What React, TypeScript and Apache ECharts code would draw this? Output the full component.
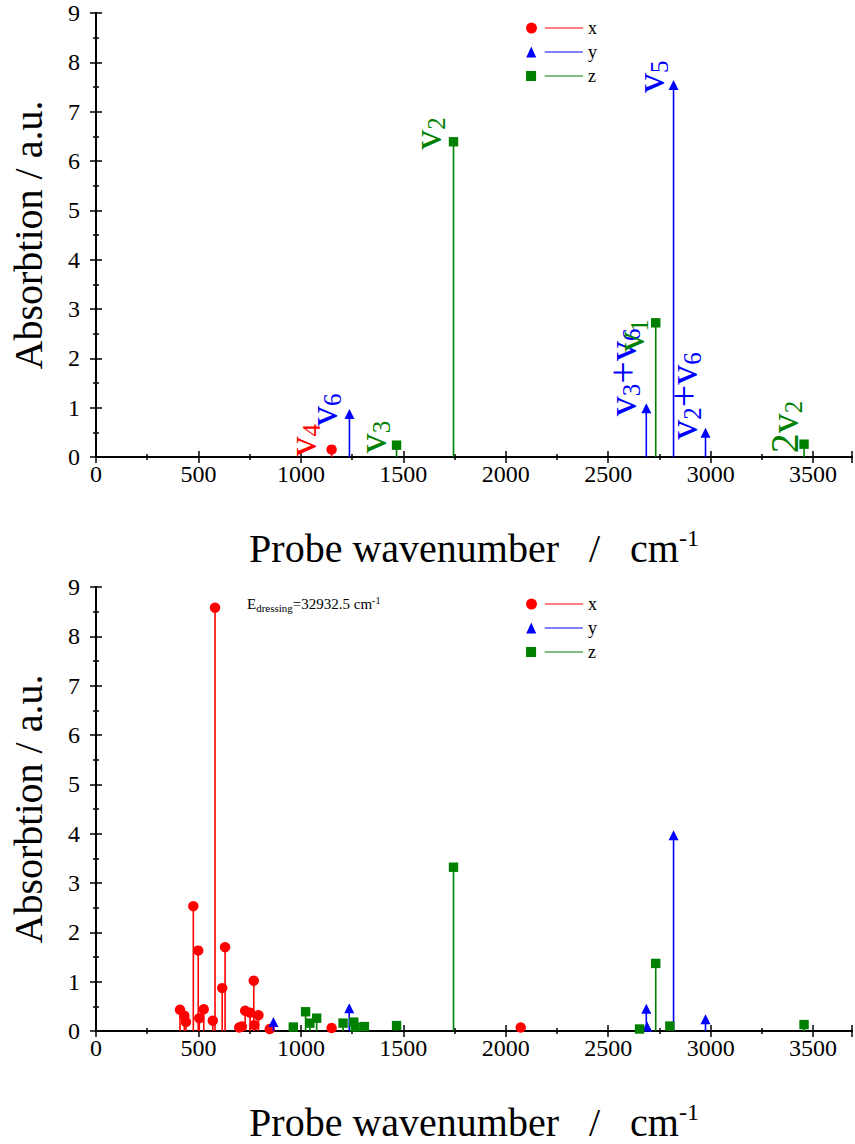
import React, { useEffect, useRef } from 'react';
import * as echarts from 'echarts';

// ---- Top panel data: [wavenumber, absorption] ----
const topX: number[][] = [[1150, 0.15]];
const topXLabels = ['v{s|4}'];
const topY: number[][] = [[1237, 0.85], [2686, 0.97], [2819, 7.52], [2975, 0.47]];
const topYLabels = ['v{s|6}', 'v{s|3}+v{s|6}', 'v{s|5}', 'v{s|2}+v{s|6}'];
const topZ: number[][] = [[1467, 0.24], [1745, 6.39], [2732, 2.72], [3456, 0.26]];
const topZLabels = ['v{s|3}', 'v{s|2}', 'v{s|1}', '2v{s|2}'];

// ---- Bottom panel data ----
const botX: number[][] = [
  [410, 0.43], [431, 0.31], [439, 0.18], [475, 2.53], [499, 1.63], [504, 0.26], [526, 0.44],
  [570, 0.21], [581, 8.58], [616, 0.87], [630, 1.70], [699, 0.07], [712, 0.09], [728, 0.41],
  [752, 0.37], [770, 1.02], [773, 0.12], [793, 0.32], [848, 0.04], [1150, 0.06], [2073, 0.07],
];
const botY: number[][] = [[866, 0.16], [1236, 0.44], [2686, 0.43], [2690, 0.07], [2819, 3.95], [2975, 0.22]];
const botZ: number[][] = [
  [963, 0.08], [1023, 0.39], [1044, 0.16], [1077, 0.26], [1206, 0.16], [1258, 0.18], [1265, 0.08],
  [1310, 0.09], [1467, 0.11], [1745, 3.32], [2653, 0.04], [2732, 1.37], [2801, 0.10], [3456, 0.13],
];

const seriesNames = ['x', 'y', 'z'];
const xTicks = [0, 500, 1000, 1500, 2000, 2500, 3000, 3500];
const dressingText = 'E{s|dressing}=32932.5 cm{p|-1}';

// styling (pixel offsets of the rotated peak labels, relative to the marker)
const topXOff = [[-8, 7]];
const topYOff = [[-4, 11], [-2, 7], [-2, 7], [-1, 6]];
const topZOff = [[-3, 8], [-5, 8], [-4, 29], [2, 9]];

const RED = '#ff0000';
const BLUE = '#0000ff';
const GREEN = '#008000';
const FONT = 'Liberation Serif';

function markerEl(kind: string, cx: number, cy: number, color: string): any {
  if (kind === 'circle') return { type: 'circle', shape: { cx, cy, r: 5.2 }, style: { fill: color } };
  if (kind === 'rect') return { type: 'rect', shape: { x: cx - 4.7, y: cy - 4.7, width: 9.4, height: 9.4 }, style: { fill: color } };
  return { type: 'polygon', shape: { points: [[cx, cy - 6], [cx - 5, cy + 4], [cx + 5, cy + 4]] }, style: { fill: color } };
}

function makeRender(color: string, kind: string, labels?: string[], offsets?: number[][]) {
  return (params: any, api: any) => {
    const x = api.value(0);
    const y = api.value(1);
    const b = api.coord([x, 0]);
    const t = api.coord([x, y]);
    const children: any[] = [
      { type: 'line', shape: { x1: b[0], y1: b[1], x2: t[0], y2: t[1] }, style: { stroke: color, lineWidth: 1.6 } },
      markerEl(kind, t[0], t[1], color),
    ];
    if (labels && offsets) {
      const off = offsets[params.dataIndex];
      children.push({
        type: 'text',
        x: t[0] + off[0],
        y: t[1] + off[1],
        rotation: Math.PI / 2,
        style: {
          text: labels[params.dataIndex],
          fill: color,
          fontSize: 40,
          fontFamily: FONT,
          align: 'left',
          verticalAlign: 'bottom',
          rich: { s: { fontSize: 25, fill: color, fontFamily: FONT, padding: [18, 0, 0, 0] } },
        },
      });
    }
    return { type: 'group', children };
  };
}

const legendIcons: Record<string, string> = {
  x: 'path://M0,5.5 A5.5,5.5 0 1,1 11,5.5 A5.5,5.5 0 1,1 0,5.5 Z M19,4.9 L57,4.9 L57,6.1 L19,6.1 Z',
  y: 'path://M0.5,11 L5.5,0 L10.5,11 Z M19,4.9 L57,4.9 L57,6.1 L19,6.1 Z',
  z: 'path://M0.5,0.5 L10.5,0.5 L10.5,10.5 L0.5,10.5 Z M19,4.9 L57,4.9 L57,6.1 L19,6.1 Z',
};

function xAxes(gridIndex: number, withName: boolean): any[] {
  const common = {
    gridIndex,
    type: 'value',
    min: 0,
    max: 3690,
    interval: 500,
    splitLine: { show: false },
    axisLine: { lineStyle: { color: '#000', width: 2 } },
    axisTick: { inside: true, length: 6, lineStyle: { color: '#000', width: 1.5 } },
    minorTick: { show: true, splitNumber: 2, length: 3, lineStyle: { color: '#000', width: 1.5 } },
  };
  return [
    {
      ...common,
      position: 'bottom',
      axisLabel: {
        fontSize: 24,
        fontFamily: FONT,
        color: '#000',
        margin: 5,
        formatter: (v: number) => (xTicks.indexOf(v) >= 0 ? String(v) : ''),
      },
      name: withName ? 'Probe wavenumber   /   cm{p|-1}' : '',
      nameLocation: 'middle',
      nameGap: 69,
      nameTextStyle: {
        fontSize: 40,
        fontFamily: FONT,
        color: '#000',
        rich: { p: { fontSize: 24, fontFamily: FONT, color: '#000', padding: [0, 0, 20, 0] } },
      },
    },
    { ...common, position: 'top', axisLabel: { show: false } },
  ];
}

function yAxes(gridIndex: number): any[] {
  const common = {
    gridIndex,
    type: 'value',
    min: 0,
    max: 9,
    interval: 1,
    splitLine: { show: false },
    axisLine: { lineStyle: { color: '#000', width: 2 } },
    axisTick: { inside: true, length: 6, lineStyle: { color: '#000', width: 1.5 } },
    minorTick: { show: true, splitNumber: 2, length: 3, lineStyle: { color: '#000', width: 1.5 } },
  };
  return [
    {
      ...common,
      position: 'left',
      axisLabel: { fontSize: 24, fontFamily: FONT, color: '#000', margin: 16 },
      name: 'Absorbtion / a.u.',
      nameLocation: 'middle',
      nameGap: 48,
      nameTextStyle: { fontSize: 40, fontFamily: FONT, color: '#000' },
    },
    { ...common, position: 'right', axisLabel: { show: false } },
  ];
}

function legend(top: number): any {
  return {
    orient: 'vertical',
    left: 521,
    top,
    itemWidth: 57,
    itemHeight: 11,
    itemGap: 6,
    selectedMode: false,
    textStyle: { fontFamily: FONT, fontSize: 18, color: '#000' },
    data: seriesNames.map((n) => ({ name: n, icon: legendIcons[n] })),
  };
}

function series(name: string, data: number[][], color: string, kind: string, axisIdx: number, labels?: string[], offsets?: number[][]): any {
  return {
    type: 'custom',
    name,
    xAxisIndex: axisIdx,
    yAxisIndex: axisIdx,
    itemStyle: { color },
    data,
    clip: false,
    renderItem: makeRender(color, kind, labels, offsets),
  };
}

export default function App() {
  const ref = useRef<HTMLDivElement>(null);
  useEffect(() => {
    if (!ref.current) return;
    const chart = echarts.init(ref.current, undefined, { renderer: 'svg' });
    chart.setOption({
      animation: false,
      backgroundColor: '#fff',
      textStyle: { fontFamily: FONT },
      grid: [
        { left: 95, top: 13, width: 758, height: 444 },
        { left: 95, top: 587, width: 758, height: 444 },
      ],
      xAxis: [...xAxes(0, true), ...xAxes(1, true)],
      yAxis: [...yAxes(0), ...yAxes(1)],
      legend: [legend(14), legend(590)],
      graphic: [
        {
          type: 'text',
          left: 247,
          top: 595,
          style: {
            text: dressingText,
            fontSize: 15,
            fontFamily: FONT,
            fill: '#000',
            rich: {
              s: { fontSize: 11, fontFamily: FONT, fill: '#000', padding: [8, 0, 0, 0] },
              p: { fontSize: 10, fontFamily: FONT, fill: '#000', padding: [0, 0, 8, 0] },
            },
          },
        },
      ],
      series: [
        series('x', topX, RED, 'circle', 0, topXLabels, topXOff),
        series('y', topY, BLUE, 'triangle', 0, topYLabels, topYOff),
        series('z', topZ, GREEN, 'rect', 0, topZLabels, topZOff),
        series('x', botX, RED, 'circle', 2),
        series('y', botY, BLUE, 'triangle', 2),
        series('z', botZ, GREEN, 'rect', 2),
      ],
    });
    return () => chart.dispose();
  }, []);
  return <div ref={ref} style={{ position: 'absolute', left: 0, top: 0, width: 855, height: 1144 }} />;
}
